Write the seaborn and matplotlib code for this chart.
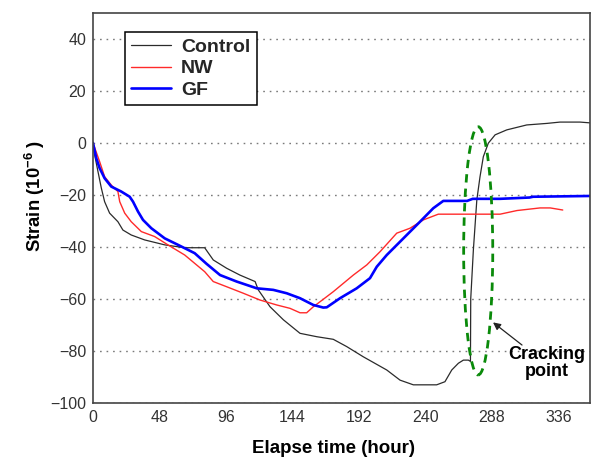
import numpy as np
import pandas as pd
import matplotlib
matplotlib.use("Agg")
import matplotlib.pyplot as plt
import seaborn as sns
from matplotlib.patches import Ellipse

# ---- data ----
control_x = [0, 1.2, 3.6, 6, 8.4, 12, 18, 21.6, 27.6, 37.3, 51.8, 66.2, 80.6, 86.8, 96.5,
             106, 117, 119.3, 127.8, 137.4, 149.4, 161.5, 173.4, 183.1, 195, 212, 221.6,
             231.2, 248, 254, 258.9, 263.7, 267.3, 270.9, 272.4, 272.6, 274.5, 277, 279.3,
             281.7, 285.3, 290.2, 298.6, 313, 327.7, 337, 351.5, 358.7]
control_y = [0, -4.6, -11, -17.3, -22.6, -27, -30.3, -33.5, -35.4, -37.3, -39.2, -40.3, -40.3,
             -45, -48.2, -50.8, -53.3, -56.5, -63, -68, -73.2, -74.5, -75.5, -78.3, -82.2,
             -87.3, -91.2, -93, -93, -91.8, -87.3, -84.7, -83.5, -83.5, -84, -60, -41.2,
             -21.9, -13, -5.3, -0.1, 3.1, 5, 6.9, 7.5, 8, 8, 7.7]

nw_x = [0, 4.8, 8.4, 13.2, 18, 19.3, 22.9, 27.6, 34.9, 44.5, 54.1, 66.2, 80.6, 86.8, 96.5,
        108.5, 120.5, 132.6, 142.2, 149.4, 154.2, 159, 164, 173.4, 187.9, 197.6, 207.2,
        219.2, 228.8, 238.4, 249.2, 293.8, 306, 322.6, 330, 339]
nw_y = [0, -7.2, -13, -16.2, -18.7, -22.6, -27, -30.3, -34.1, -36, -39.2, -43.1, -49.5,
        -53.3, -55.3, -57.8, -60.4, -62.3, -63.6, -65.3, -65.3, -63, -61, -57.2, -50.8,
        -46.9, -41.8, -34.7, -32.8, -29.6, -27.4, -27.4, -26, -25, -25, -25.8]

gf_x = [0, 2.4, 4.8, 8.4, 13.2, 20.4, 26.5, 28.9, 32.5, 36.1, 42.1, 51.8, 61.4, 73.4, 82,
        91.7, 103.7, 118.2, 130.1, 139.8, 149.4, 159, 166.2, 168.7, 178.3, 190.3, 199.9,
        204.8, 212, 224, 236, 245.6, 252.8, 270, 274, 293.8, 315, 317.6, 358.7]
gf_y = [0, -5.9, -9.7, -13.6, -16.8, -18.7, -20.7, -22.6, -26.4, -29.6, -32.8, -36.7,
        -39.2, -42.4, -46.5, -50.8, -53.3, -55.9, -56.5, -57.8, -59.7, -62.3, -63.3, -63.2,
        -59.7, -55.9, -52, -47.6, -43.1, -36.7, -30.3, -25.1, -22.3, -22.3, -21.5, -21.5,
        -21, -20.7, -20.4]

series_names = ["Control", "NW", "GF"]
x_ticks = [0, 48, 96, 144, 192, 240, 288, 336]
y_ticks = [-100, -80, -60, -40, -20, 0, 20, 40]

# cracking annotation
crack_center = (278, -41.5)
crack_width = 21
crack_height = 95.4
arrow_tip = (288.7, -69)
arrow_tail = (309.6, -77.7)
crack_text_pos = (327.7, -84.6)
crack_text = "Cracking\npoint"

# ---- plotting ----
sns.set_style("white")
plt.rcParams["font.family"] = ["Liberation Sans", "DejaVu Sans"]
plt.rcParams["mathtext.fontset"] = "custom"
plt.rcParams["mathtext.rm"] = "Liberation Sans"
plt.rcParams["mathtext.bf"] = "Liberation Sans:bold"

fig = plt.figure(figsize=(5.96, 4.58), dpi=100)
ax = fig.add_axes([0.156, 0.120, 0.834, 0.852])

styles = {
    "Control": dict(color="#2b2b2b", lw=0.9),
    "NW": dict(color="#ff2a2a", lw=1.0),
    "GF": dict(color="#0000ff", lw=1.9),
}
data = {"Control": (control_x, control_y), "NW": (nw_x, nw_y), "GF": (gf_x, gf_y)}

for name in series_names:
    xs, ys = data[name]
    df = pd.DataFrame({"x": xs, "y": ys})
    sns.lineplot(data=df, x="x", y="y", ax=ax, sort=False, estimator=None,
                 color=styles[name]["color"], linewidth=styles[name]["lw"], label=name)

ax.set_xlim(0, 358.7)
ax.set_ylim(-100, 50)
ax.set_xticks(x_ticks)
ax.set_yticks(y_ticks)

ax.yaxis.grid(True, linestyle=(0, (1.2, 3.5)), color="#7a7a7a", linewidth=1.0)
ax.xaxis.grid(False)
ax.set_axisbelow(True)

for sp in ax.spines.values():
    sp.set_color("#444444")
    sp.set_linewidth(1.2)

ax.tick_params(axis="both", direction="in", length=5, width=1.0, color="#444444",
               labelsize=11.5, labelcolor="#333333", pad=5, top=False, right=False)

ax.set_xlabel("Elapse time (hour)", fontsize=13.5, fontweight="bold", color="black")
ax.set_ylabel(r"Strain (10$^{\mathbf{-6}}$ )", fontsize=13.3, fontweight="bold", color="black")
ax.xaxis.set_label_coords(0.484, -0.094)
ax.yaxis.set_label_coords(-0.092, 0.53)

# cracking ellipse
ell = Ellipse(crack_center, crack_width, crack_height, fill=False, edgecolor="#0a8a0a",
              linewidth=2.0, linestyle=(0, (3, 2.2)), zorder=5)
ax.add_patch(ell)
ax.annotate("", xy=arrow_tip, xytext=arrow_tail,
            arrowprops=dict(arrowstyle="-|>", color="#222222", lw=0.9,
                            mutation_scale=11, shrinkA=0, shrinkB=0), zorder=6)
ax.text(crack_text_pos[0], crack_text_pos[1], crack_text, ha="center", va="center",
        fontsize=13, fontweight="bold", linespacing=1.0, color="black")

leg = ax.legend(loc="upper left", bbox_to_anchor=(0.064, 0.951), borderaxespad=0,
                frameon=True, fancybox=False, framealpha=1, edgecolor="black",
                handlelength=2.06, handletextpad=0.5, labelspacing=0.2,
                borderpad=0.33, prop={"weight": "bold", "size": 14})
leg.get_frame().set_linewidth(1.1)

fig.savefig("out.png", dpi=100)
